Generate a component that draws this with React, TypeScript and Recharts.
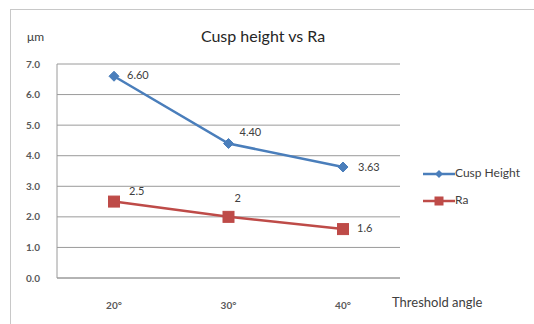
import React from "react";
import { LineChart, Line, XAxis, YAxis, CartesianGrid } from "recharts";

// Valores
const categories = ["20°", "30°", "40°"];
const cuspHeight = [6.6, 4.4, 3.63];
const ra = [2.5, 2, 1.6];
const cuspLabels = ["6.60", "4.40", "3.63"];
const raLabels = ["2.5", "2", "1.6"];
const yTicks = [0, 1, 2, 3, 4, 5, 6, 7];

// Colocación de las etiquetas de datos (dx, dy respecto al punto)
const cuspLabelPos = [[13, 0], [11, -10], [15, 1]];
const raLabelPos = [[15, -9], [6, -18], [14, 0]];

const BLUE = "#4a7ebb";
const RED = "#be4b48";
const FONT = "Lato, 'Open Sans', sans-serif";

const data = categories.map((c, i) => ({ cat: c, cusp: cuspHeight[i], ra: ra[i] }));

const Diamond = (props: any) => {
  const { cx, cy } = props;
  if (cx == null || cy == null) return null;
  const r = 5;
  return <path d={`M${cx},${cy - r}L${cx + r},${cy}L${cx},${cy + r}L${cx - r},${cy}Z`} fill={BLUE} stroke={BLUE} />;
};

const Square = (props: any) => {
  const { cx, cy } = props;
  if (cx == null || cy == null) return null;
  const r = 5.5;
  return <rect x={cx - r} y={cy - r} width={r * 2} height={r * 2} fill={RED} stroke={RED} />;
};

const makeLabel = (texts: string[], pos: number[][]) => (props: any) => {
  const { x, y, index } = props;
  return (
    <text x={x + pos[index][0]} y={y + pos[index][1]} fontSize={11} fill="#404040"
      fontFamily={FONT} textAnchor="start" dominantBaseline="middle">
      {texts[index]}
    </text>
  );
};

export default function App() {
  return (
    <div style={{ position: "absolute", left: 0, top: 0, width: 534, height: 324, background: "#fff", fontFamily: FONT }}>
      <div style={{ position: "absolute", left: 10, top: 9, right: 0, bottom: 0, borderTop: "1.5px solid #c8c8c8", borderLeft: "1.5px solid #c8c8c8" }} />
      <div style={{ position: "absolute", left: 0, width: 526, top: 26, textAlign: "center", fontSize: 16, color: "#262626" }}>
        Cusp height vs Ra
      </div>
      <div style={{ position: "absolute", left: 27, top: 29, fontSize: 12, color: "#404040" }}>μm</div>
      <div style={{ position: "absolute", left: 392, top: 294, fontSize: 13, color: "#404040" }}>Threshold angle</div>
      <LineChart width={534} height={324} data={data} margin={{ top: 64, right: 134, left: 0, bottom: 0 }}
        style={{ position: "absolute", left: 0, top: 0 }}>
        <CartesianGrid vertical={false} stroke="#9a9a9a" />
        <XAxis dataKey="cat" height={46} tickLine={false} axisLine={{ stroke: "#9a9a9a" }}
          padding={{ left: 57, right: 57 }}
          tick={{ fontSize: 10, fill: "#595959", fontWeight: 700, fontFamily: FONT }} tickMargin={18} />
        <YAxis width={57} domain={[0, 7]} ticks={yTicks} tickFormatter={(v: number) => v.toFixed(1)}
          tickLine={false} tickSize={0} tickMargin={17} axisLine={{ stroke: "#9a9a9a" }}
          tick={{ fontSize: 10, fill: "#595959", fontWeight: 700, fontFamily: FONT }} />
        <Line dataKey="cusp" stroke={BLUE} strokeWidth={2.5} dot={<Diamond />} activeDot={false}
          isAnimationActive={false} label={makeLabel(cuspLabels, cuspLabelPos)} />
        <Line dataKey="ra" stroke={RED} strokeWidth={2.5} dot={<Square />} activeDot={false}
          isAnimationActive={false} label={makeLabel(raLabels, raLabelPos)} />
      </LineChart>
      <svg width={120} height={50} style={{ position: "absolute", left: 420, top: 160 }}>
        <line x1={3} x2={35} y1={14} y2={14} stroke={BLUE} strokeWidth={2.5} />
        <path d="M19,10L23,14L19,18L15,14Z" fill={BLUE} />
        <text x={35} y={14} fontSize={12} fill="#404040" fontFamily={FONT} dominantBaseline="middle">Cusp Height</text>
        <line x1={3} x2={35} y1={41} y2={41} stroke={RED} strokeWidth={2.5} />
        <rect x={14.5} y={36.5} width={9} height={9} fill={RED} />
        <text x={35} y={41} fontSize={12} fill="#404040" fontFamily={FONT} dominantBaseline="middle">Ra</text>
      </svg>
    </div>
  );
}
